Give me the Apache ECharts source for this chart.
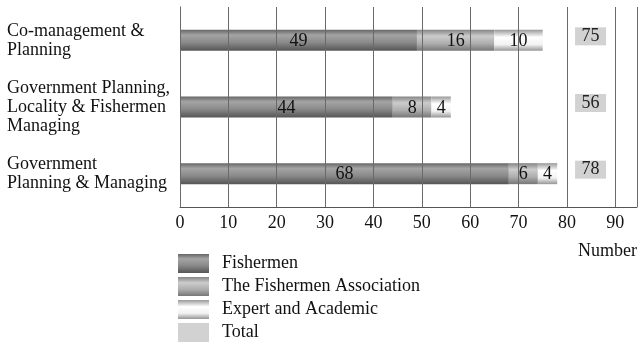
<!DOCTYPE html>
<html>
<head>
<meta charset="utf-8">
<script src="https://cdn.jsdelivr.net/npm/echarts@6/dist/echarts.min.js"></script>
<style>
  html, body { margin: 0; padding: 0; background: #fff; }
  #chart-container { width: 640px; height: 347px; }
</style>
</head>
<body>
<div id="chart-container"></div>
<script>
const categories = ['Co-management &\nPlanning', 'Government Planning,\nLocality & Fishermen\nManaging', 'Government\nPlanning & Managing']
const fishermen = [49, 44, 68]
const association = [16, 8, 6]
const expert = [10, 4, 4]
const totals = [75, 56, 78]
const xTicks = [0, 10, 20, 30, 40, 50, 60, 70, 80, 90]

// where the total boxes sit on the value axis
const totalCol = 84.9
const font = 'Liberation Serif'

const grad = (stops) => new echarts.graphic.LinearGradient(0, 0, 0, 1,
    stops.map((c, i) => ({ offset: c[0], color: c[1] })))

const barLabel = {
    show: true,
    position: 'inside',
    color: '#111',
    fontFamily: font,
    fontSize: 18,
    offset: [0, 1]
}

const createChart = () => {
    var dom = document.getElementById('chart-container');
    var myChart = echarts.init(dom, null, { renderer: 'canvas' });
    var option = {
        animation: false,
        textStyle: { fontFamily: font },
        grid: { left: 180, right: 0, top: 7, bottom: 140 },
        legend: {
            orient: 'vertical',
            left: 178,
            top: 254,
            padding: 0,
            height: 100,
            icon: 'rect',
            itemWidth: 31,
            itemHeight: 19,
            itemGap: 4,
            textStyle: { fontFamily: font, fontSize: 18, color: '#111', padding: [0, 0, 0, 8] },
            data: ['Fishermen', 'The Fishermen Association', 'Expert and Academic', 'Total']
        },
        xAxis: {
            type: 'value',
            min: 0,
            max: 94.5,
            interval: 10,
            z: 3,
            name: 'Number',
            nameLocation: 'end',
            nameGap: 0,
            nameTextStyle: {
                fontFamily: font, fontSize: 18, color: '#111',
                align: 'right', verticalAlign: 'top', padding: [35, 0, 0, 0]
            },
            axisLine: { show: true, lineStyle: { color: '#555', width: 1 } },
            axisTick: { show: false },
            axisLabel: {
                fontFamily: font, fontSize: 18, color: '#111', margin: 7,
                formatter: (v) => xTicks.indexOf(v) >= 0 ? String(v) : ''
            },
            splitLine: { show: true, lineStyle: { color: '#6a6a6a', width: 1 } }
        },
        yAxis: {
            type: 'category',
            inverse: true,
            data: categories,
            axisLine: { show: true, lineStyle: { color: '#444', width: 1 } },
            axisTick: { show: false },
            axisLabel: {
                align: 'left', margin: 173, fontFamily: font, fontSize: 18,
                lineHeight: 19, color: '#111'
            }
        },
        series: [
            {
                name: 'Fishermen', type: 'bar', stack: 'all', barWidth: 21,
                data: fishermen, label: barLabel,
                itemStyle: { color: grad([[0, '#666666'], [0.25, '#a4a4a4'], [0.6, '#8a8a8a'], [1, '#555555']]) }
            },
            {
                name: 'The Fishermen Association', type: 'bar', stack: 'all', barWidth: 21,
                data: association, label: barLabel,
                itemStyle: { color: grad([[0, '#858585'], [0.3, '#cccccc'], [0.65, '#aeaeae'], [1, '#767676']]) }
            },
            {
                name: 'Expert and Academic', type: 'bar', stack: 'all', barWidth: 21,
                data: expert, label: barLabel,
                itemStyle: { color: grad([[0, '#999999'], [0.35, '#ffffff'], [0.7, '#f2f2f2'], [1, '#959595']]) }
            },
            {
                name: 'Total', type: 'custom',
                itemStyle: { color: '#d2d2d2' },
                encode: { y: 0, x: 1 },
                data: totals.map((t, i) => [i, t]),
                renderItem: (params, api) => {
                    let p = api.coord([totalCol, api.value(0)])
                    return {
                        type: 'group',
                        children: [
                            { type: 'rect', shape: { x: p[0] - 15.5, y: p[1] - 13, width: 31, height: 18 }, style: { fill: '#d2d2d2' } },
                            { type: 'text', x: p[0], y: p[1] - 4, style: {
                                text: String(api.value(1)), fill: '#222', font: '18px "Liberation Serif"',
                                align: 'center', verticalAlign: 'middle' } }
                        ]
                    }
                }
            }
        ]
    };
    myChart.setOption(option);
    window.addEventListener('resize', myChart.resize);
}

createChart()
</script>
</body>
</html>
